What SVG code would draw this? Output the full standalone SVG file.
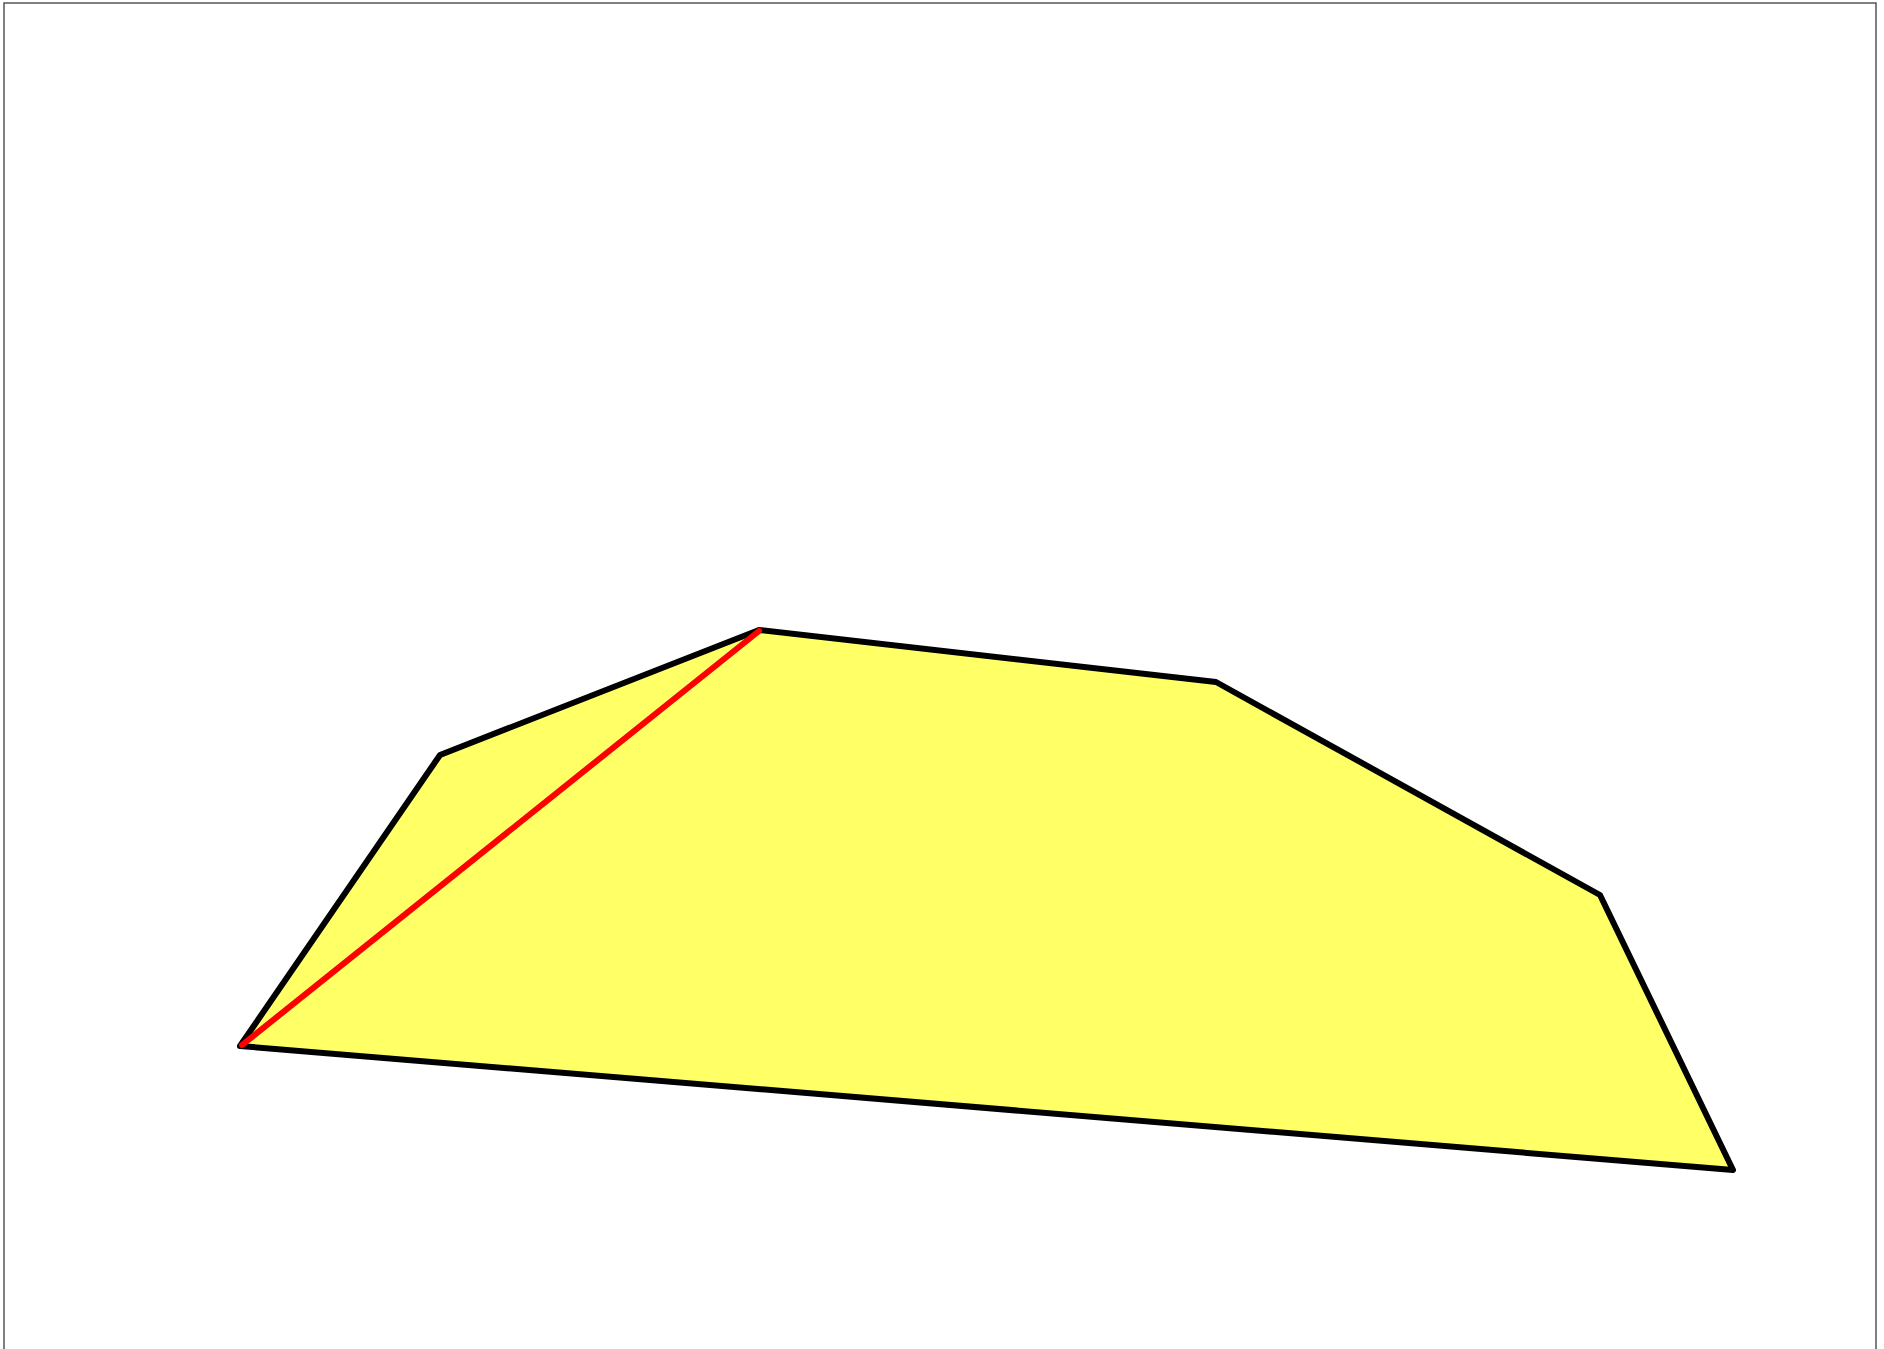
<svg xmlns="http://www.w3.org/2000/svg" width="1884" height="1349" viewBox="0 0 1884 1349">
<style>
.frame{fill:none;stroke:#555;stroke-width:1.5}
.poly{fill:#ffff66;stroke:#000;stroke-width:6;stroke-linejoin:round}
.diag{stroke:#ff0000;stroke-width:6;stroke-linecap:round;fill:none}
</style>
<rect width="1884" height="1349" fill="#fff"/>
<rect class="frame" x="4" y="3" width="1872" height="1360"/>
<g id="polygon">
<polygon class="poly" points="240,1046 440,755 759,630 1216,682 1600,895 1733,1170"/>
</g>
<g id="connectors">
<line class="diag" x1="242" y1="1045" x2="759" y2="631"/>
</g>
</svg>
